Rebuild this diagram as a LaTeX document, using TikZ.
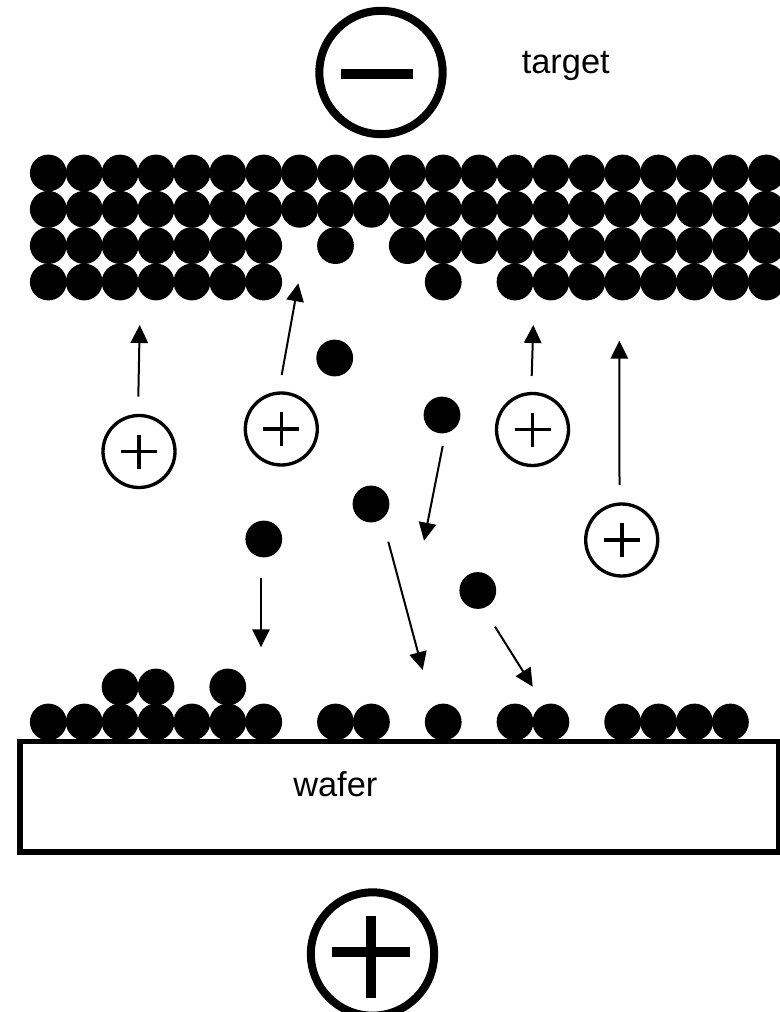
\documentclass[tikz,border=0pt]{standalone}
\usepackage{fontspec}
\setmainfont{Liberation Sans}
\usetikzlibrary{arrows.meta,calc}
\begin{document}
\begin{tikzpicture}[x=0.75pt,y=-0.75pt,
  atom/.style={circle,fill=black,draw=none,minimum size=27.6pt,inner sep=0pt},
  ion/.style={circle,draw=black,line width=2.5pt,minimum size=54pt,inner sep=0pt},
  pole/.style={circle,draw=black,line width=6pt,minimum size=92.5pt,inner sep=0pt},
  sign/.style={line width=2.7pt},
  bigsign/.style={line width=7pt},
  flight/.style={line width=1.5pt,-{Triangle[width=13pt,length=13.5pt]}},
  label/.style={font=\fontsize{25.8pt}{30pt}\selectfont,inner sep=0pt},
  plate/.style={draw=black,line width=4.2pt,fill=white}]
\useasboundingbox (0,0) rectangle (780,1012);
\clip (0,0) rectangle (780,1012);

% target plate: four rows of atoms, with the sputtered vacancies left out
\def\colx#1{48.3+35.9*#1}
\foreach \c in {0,...,20} {
  \node[atom] (t1-\c) at ({\colx{\c}},173) {};
  \node[atom] (t2-\c) at ({\colx{\c}},209.3) {};
}
\foreach \c in {0,...,6,8,10,11,...,20}
  \node[atom] (t3-\c) at ({\colx{\c}},245.6) {};
\foreach \c in {0,...,6,11,13,14,...,20}
  \node[atom] (t4-\c) at ({\colx{\c}},282) {};

% cathode sign and label
\node[pole] (cathode) at (381,72.5) {};
\draw[bigsign] (341,74) -- (412.5,74);
\node[label,anchor=base west] (targetlbl) at (521.5,73.3) {target};

% wafer with the deposited film
\draw[plate] (20,741.5) rectangle (778.5,852);
\node[label,anchor=base west] (waferlbl) at (293,796.7) {wafer};
\foreach \c in {0,...,6,8,9,11,13,14,16,17,18,19}
  \node[atom] (d1-\c) at ({\colx{\c}},722) {};
\foreach \c in {2,3,5}
  \node[atom] (d2-\c) at ({\colx{\c}},687) {};

% anode sign
\node[pole] (anode) at (372.5,954) {};
\draw[bigsign] (331.5,952) -- (410,952);
\draw[bigsign] (371,916) -- (371,997.5);

% argon ions
\foreach \n/\x/\y in {1/139/451.5, 2/281.3/429, 3/532.5/429.5, 4/621.7/540} {
  \node[ion] (ion\n) at (\x,\y) {};
  \draw[sign] ($(\x,\y)+(-18,0)$) -- ($(\x,\y)+(18,0)$);
  \draw[sign] ($(\x,\y)+(0,-17)$) -- ($(\x,\y)+(0,17)$);
}

% sputtered atoms in flight
\node[atom] (p1) at (334.7,358) {};
\node[atom] (p2) at (442,415) {};
\node[atom] (p3) at (371,504) {};
\node[atom] (p4) at (477.8,590.5) {};
\node[atom] (p5) at (263.8,539) {};

% trajectories
\coordinate (i1a) at (138.3,396.7); \coordinate (i1b) at (139.7,325);
\coordinate (i2a) at (281.7,375);   \coordinate (i2b) at (298.3,283.3);
\coordinate (i3a) at (531.7,376);   \coordinate (i3b) at (533.3,325);
\coordinate (i4a) at (619.5,485);   \coordinate (i4b) at (619.3,340.7);
\coordinate (p2a) at (442.7,446);   \coordinate (p2b) at (424,540.7);
\coordinate (p3a) at (388.3,541.7); \coordinate (p3b) at (422.7,670);
\coordinate (p4a) at (495,626.7);   \coordinate (p4b) at (532.7,686.7);
\coordinate (p5a) at (261,577.7);   \coordinate (p5b) at (261,647.3);
\foreach \s/\e in {i1a/i1b,i2a/i2b,i3a/i3b,i4a/i4b,p2a/p2b,p3a/p3b,p4a/p4b,p5a/p5b}
  \draw[flight] (\s) -- (\e);
\end{tikzpicture}
\end{document}
